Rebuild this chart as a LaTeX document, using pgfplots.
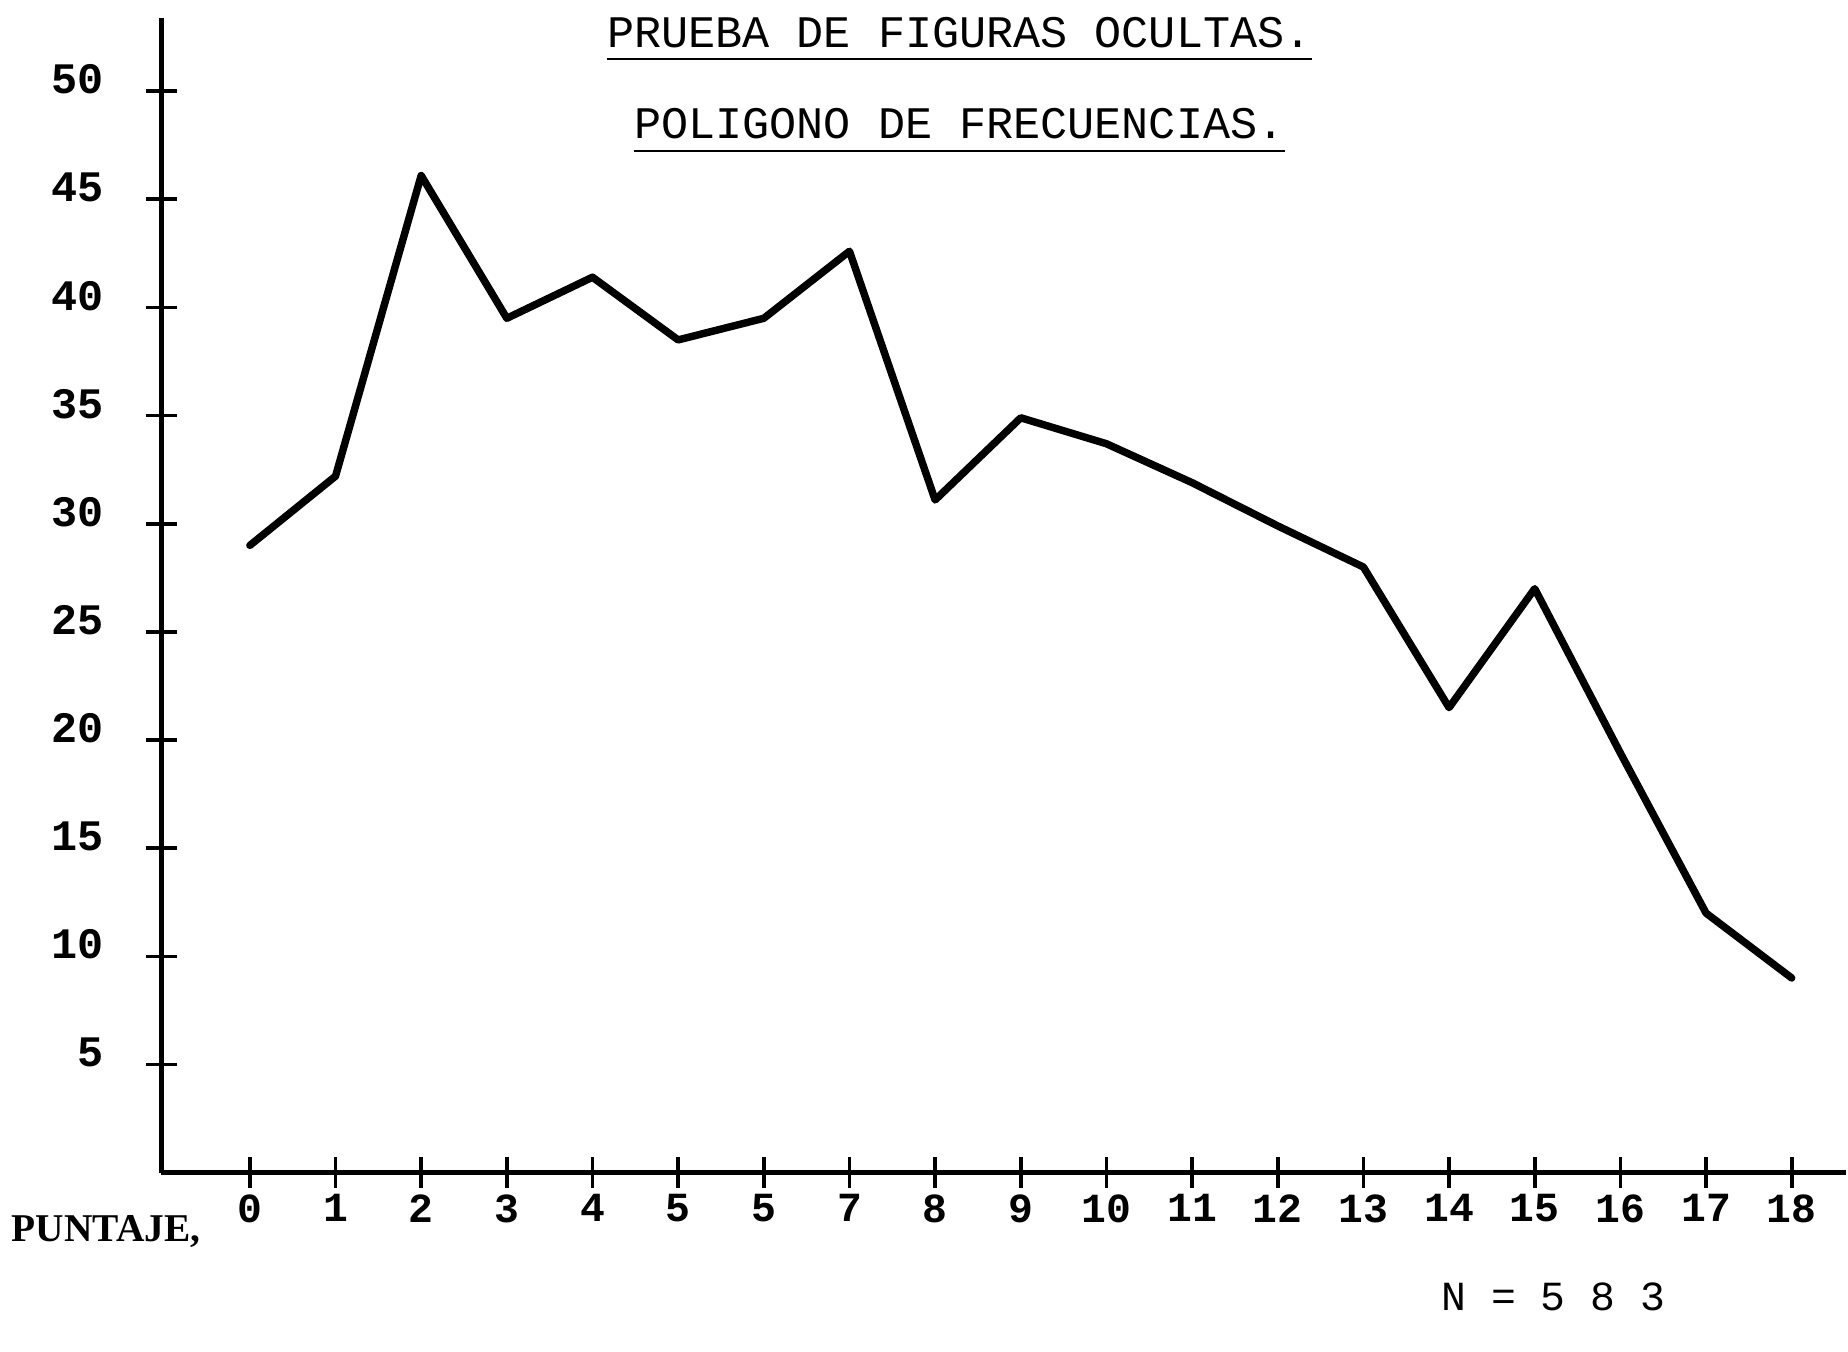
\documentclass[border=0pt]{standalone}
\usepackage{fontspec}
\setmainfont{Liberation Mono}
\newfontfamily\serifb{Liberation Serif}
\usepackage{pgfplots}
\pgfplotsset{compat=1.18}
\begin{document}
\begin{tikzpicture}
\path[use as bounding box] (0,0) rectangle (15.68cm,11.47cm);
\begin{axis}[
  at={(1.37cm,1.52cm)}, anchor=south west,
  scale only axis, width=14.29cm, height=9.80cm,
  xmin=-1.032, xmax=18.63, ymin=0, ymax=53.4,
  axis x line=bottom, axis y line=left,
  axis line style={-, line width=1.1pt, black},
  xtick={0,...,18},
  xticklabels={0,1,2,3,4,5,5,7,8,9,10,11,12,13,14,15,16,17,18},
  ytick={5,10,...,50},
  tick align=center, major tick length=2.6mm,
  tick style={line width=0.9pt, black},
  /pgf/number format/assume math mode=true,
  xticklabel style={font=\bfseries\fontsize{10}{12}\selectfont, yshift=0.7mm},
  yticklabel style={font=\bfseries\fontsize{10.5}{12}\selectfont, xshift=-2.4mm, yshift=1.0mm},
  clip=false,
]
\addplot[black, line width=1.8pt, line join=round, line cap=round] coordinates {
(0,29.0) (1,32.2) (2,46.1) (3,39.5) (4,41.4) (5,38.5) (6,39.5) (7,42.6)
(8,31.1) (9,34.9) (10,33.7) (11,31.9) (12,29.9) (13,28.0) (14,21.5)
(15,27.0) (16,19.4) (17,12.0) (18,9.0)
};
\end{axis}
\node[font=\fontsize{10.9}{12}\selectfont] at (8.14cm,11.19cm) {PRUEBA DE FIGURAS OCULTAS.};
\draw[line width=0.6pt] (5.15cm,10.97cm) -- (11.13cm,10.97cm);
\node[font=\fontsize{10.9}{12}\selectfont] at (8.14cm,10.42cm) {POLIGONO DE FRECUENCIAS.};
\draw[line width=0.6pt] (5.38cm,10.19cm) -- (10.90cm,10.19cm);
\node[font=\serifb\bfseries\fontsize{9.5}{12}\selectfont] at (0.90cm,1.02cm) {PUNTAJE,};
\node[font=\fontsize{10}{12}\selectfont] at (13.18cm,0.47cm) {N = 5 8 3};
\end{tikzpicture}
\end{document}
